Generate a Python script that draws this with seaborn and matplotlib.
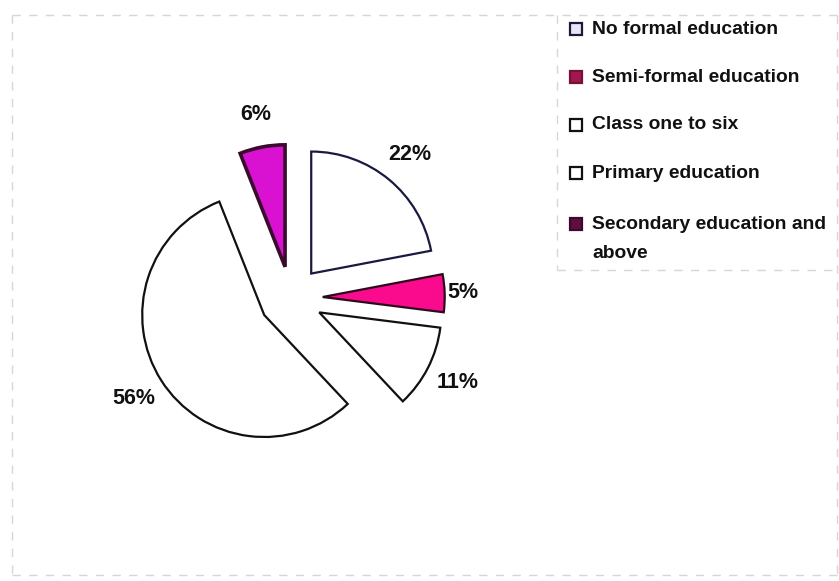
import matplotlib
matplotlib.use("Agg")
import matplotlib.pyplot as plt
from matplotlib.patches import Rectangle
from matplotlib.lines import Line2D
import seaborn as sns

# Education level shares (%)
categories = [
    "No formal education",
    "Semi-formal education",
    "Class one to six",
    "Primary education",
    "Secondary education and\nabove",
]
shares = [22, 5, 11, 56, 6]

# Fill / edge colours for the pie slices and for the legend swatches
slice_colors = ["#ffffff", "#fa0a8c", "#ffffff", "#ffffff", "#d812d0"]
slice_edges = ["#1a1a40", "#2a0a1a", "#111111", "#111111", "#3a0a2c"]
swatch_fill = ["#e6e6f2", "#a0184e", "#ffffff", "#ffffff", "#5c0f40"]
swatch_edge = ["#1c1838", "#7a1038", "#111111", "#111111", "#3c0a2a"]

sns.set_theme(style="white")
plt.rcParams["font.family"] = ["Liberation Sans", "DejaVu Sans"]

W, H = 839, 581
fig = plt.figure(figsize=(W / 100, H / 100), dpi=100)
fig.patch.set_facecolor("white")
ax = fig.add_axes([0, 0, 1, 1])
ax.set_axis_off()

wedges, _, pct_texts = ax.pie(
    shares,
    colors=slice_colors,
    startangle=90,
    counterclock=False,
    explode=[0.26] * len(shares),
    radius=1.0,
    autopct=lambda p: f"{p:.0f}%",
    pctdistance=1.27,
    wedgeprops=dict(linewidth=1.6),
    textprops=dict(fontsize=15.5, fontweight="bold", color="#111111"),
)
for w, ec in zip(wedges, slice_edges):
    w.set_edgecolor(ec)
wedges[4].set_linewidth(2.6)

# pull the thin 5% label a little closer to its slice
x, y = pct_texts[1].get_position()
pct_texts[1].set_position((x * 0.92, y))

# pie centre placed at pixel (291, 298), radius 122 px
cx, cy, r = 291, 298, 122
ax.set_xlim(-cx / r, (W - cx) / r)
ax.set_ylim(-(H - cy) / r, cy / r)
ax.set_aspect("equal", adjustable="box")

def fx(px):
    return px / W

def fy(py):
    return 1 - py / H

frame_kw = dict(color="#d6d6d6", lw=1.0, linestyle=(0, (6, 6)), transform=fig.transFigure)
# outer plot-area frame
for xs, ys in [((12, 837), (15, 15)), ((12, 12), (15, 575)), ((837, 837), (15, 575)), ((12, 837), (575, 575))]:
    fig.add_artist(Line2D([fx(v) for v in xs], [fy(v) for v in ys], **frame_kw))
# legend box
for xs, ys in [((557, 837), (270, 270)), ((557, 557), (15, 270))]:
    fig.add_artist(Line2D([fx(v) for v in xs], [fy(v) for v in ys], **frame_kw))

# legend entries: swatch row centres and text block centres
swatch_y = [29, 77, 125, 173, 224]
text_y = [29, 77, 125, 173, 239]
sw = 12
for label, fc, ec, sy, ty in zip(categories, swatch_fill, swatch_edge, swatch_y, text_y):
    fig.add_artist(Rectangle((fx(570), fy(sy + sw / 2)), sw / W, sw / H,
                             transform=fig.transFigure, facecolor=fc,
                             edgecolor=ec, lw=1.6))
    fig.text(fx(592), fy(ty), label, fontsize=13.9, fontweight="bold",
             color="#111111", va="center", ha="left", linespacing=1.95)

fig.savefig("out.png", dpi=100, facecolor="white")
